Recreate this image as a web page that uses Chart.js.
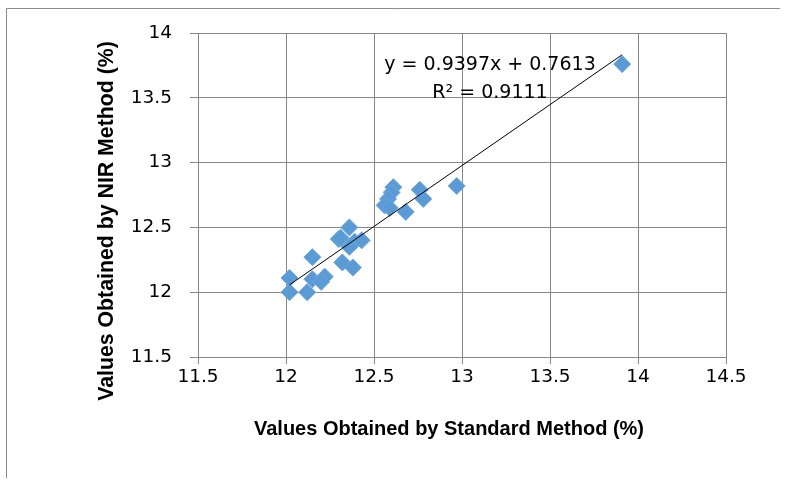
<!DOCTYPE html>
<html>
<head>
<meta charset="utf-8">
<script src="https://cdn.jsdelivr.net/npm/chart.js@4.4.1/dist/chart.umd.min.js"></script>
<style>
  html, body { margin: 0; padding: 0; background: #fff; }
  #wrap { width: 787px; height: 482px; }
</style>
</head>
<body>
<div id="wrap"><canvas id="scatterChart" width="787" height="482"></canvas></div>
<script>
// Standard method values (x) and NIR method values (y)
const standardValues = [12.02, 12.02, 12.12, 12.15, 12.15, 12.22, 12.20, 12.32, 12.38, 12.36, 12.30, 12.31,
    12.39, 12.36, 12.43, 12.61, 12.60, 12.58, 12.56, 12.59, 12.76, 12.78, 12.68, 12.97, 13.91];
const nirValues = [12.11, 12.00, 12.00, 12.27, 12.10, 12.12, 12.08, 12.23, 12.19, 12.50, 12.41, 12.42,
    12.39, 12.35, 12.40, 12.81, 12.77, 12.72, 12.67, 12.65, 12.79, 12.72, 12.62, 12.82, 13.76];

// Linear trendline shown on the chart
const slope = 0.9397;
const intercept = 0.7613;
const rSquared = 0.9111;

const xTicks = [11.5, 12, 12.5, 13, 13.5, 14, 14.5];
const yTicks = [11.5, 12, 12.5, 13, 13.5, 14];

const points = standardValues.map((x, i) => ({ x: x, y: nirValues[i] }));
const xMin = Math.min(...standardValues);
const xMax = Math.max(...standardValues);
const trend = [xMin, xMax].map(x => ({ x: x, y: slope * x + intercept }));

const gridGray = '#878787';
const tickFont = { family: '"DejaVu Sans"', size: 18.5 };

const framePlugin = {
    id: 'frame',
    beforeDraw(chart) {
        const c = chart.ctx;
        c.save();
        c.fillStyle = '#fff';
        c.fillRect(0, 0, chart.width, chart.height);
        c.strokeStyle = '#8c8c8c';
        c.lineWidth = 1;
        c.beginPath();
        c.moveTo(6.5, 478);
        c.lineTo(6.5, 8.5);
        c.lineTo(780, 8.5);
        c.stroke();
        c.restore();
    },
    afterDraw(chart) {
        const c = chart.ctx;
        c.save();
        c.fillStyle = '#000';
        c.textAlign = 'center';
        c.textBaseline = 'middle';
        // equation label
        c.font = '19px "DejaVu Sans"';
        c.fillText('y = ' + slope + 'x + ' + intercept, 490, 65);
        c.fillText('R\u00b2 = ' + rSquared, 490, 93);
        // axis titles
        c.font = 'bold 20px "Liberation Sans"';
        c.fillText('Values Obtained by Standard Method (%)', 449, 429);
        c.translate(107, 221);
        c.rotate(-Math.PI / 2);
        c.font = 'bold 21.3px "Liberation Sans"';
        c.fillText('Values Obtained by NIR Method (%)', 0, 0);
        c.restore();
    }
};

new Chart(document.getElementById('scatterChart').getContext('2d'), {
    type: 'scatter',
    data: {
        datasets: [{
            label: 'Samples',
            data: points,
            pointStyle: 'rectRot',
            pointRadius: 8.5,
            backgroundColor: '#5b9bd5',
            borderColor: '#6ba5da',
            borderWidth: 1,
            order: 2
        }, {
            type: 'line',
            label: 'Linear',
            data: trend,
            borderColor: '#000',
            borderWidth: 1,
            pointRadius: 0,
            fill: false,
            order: 1
        }]
    },
    options: {
        responsive: false,
        animation: false,
        layout: { padding: { left: 0, top: 33, right: 61, bottom: 0 } },
        plugins: {
            legend: { display: false },
            tooltip: { enabled: false }
        },
        scales: {
            x: {
                type: 'linear',
                min: 11.5,
                max: 14.5,
                afterBuildTicks: s => { s.ticks = xTicks.map(v => ({ value: v })); },
                afterFit: s => { s.height = 125; },
                grid: { color: gridGray, tickLength: 7, drawTicks: true },
                border: { color: gridGray },
                ticks: { font: tickFont, color: '#000', padding: 2, maxRotation: 0, callback: v => String(v) }
            },
            y: {
                type: 'linear',
                min: 11.5,
                max: 14,
                afterBuildTicks: s => { s.ticks = yTicks.map(v => ({ value: v })); },
                afterFit: s => { s.width = 198; },
                grid: { color: gridGray, tickLength: 8, drawTicks: true },
                border: { color: gridGray },
                ticks: { font: tickFont, color: '#000', padding: 18, callback: v => String(v) }
            }
        }
    },
    plugins: [framePlugin]
});
</script>
</body>
</html>
